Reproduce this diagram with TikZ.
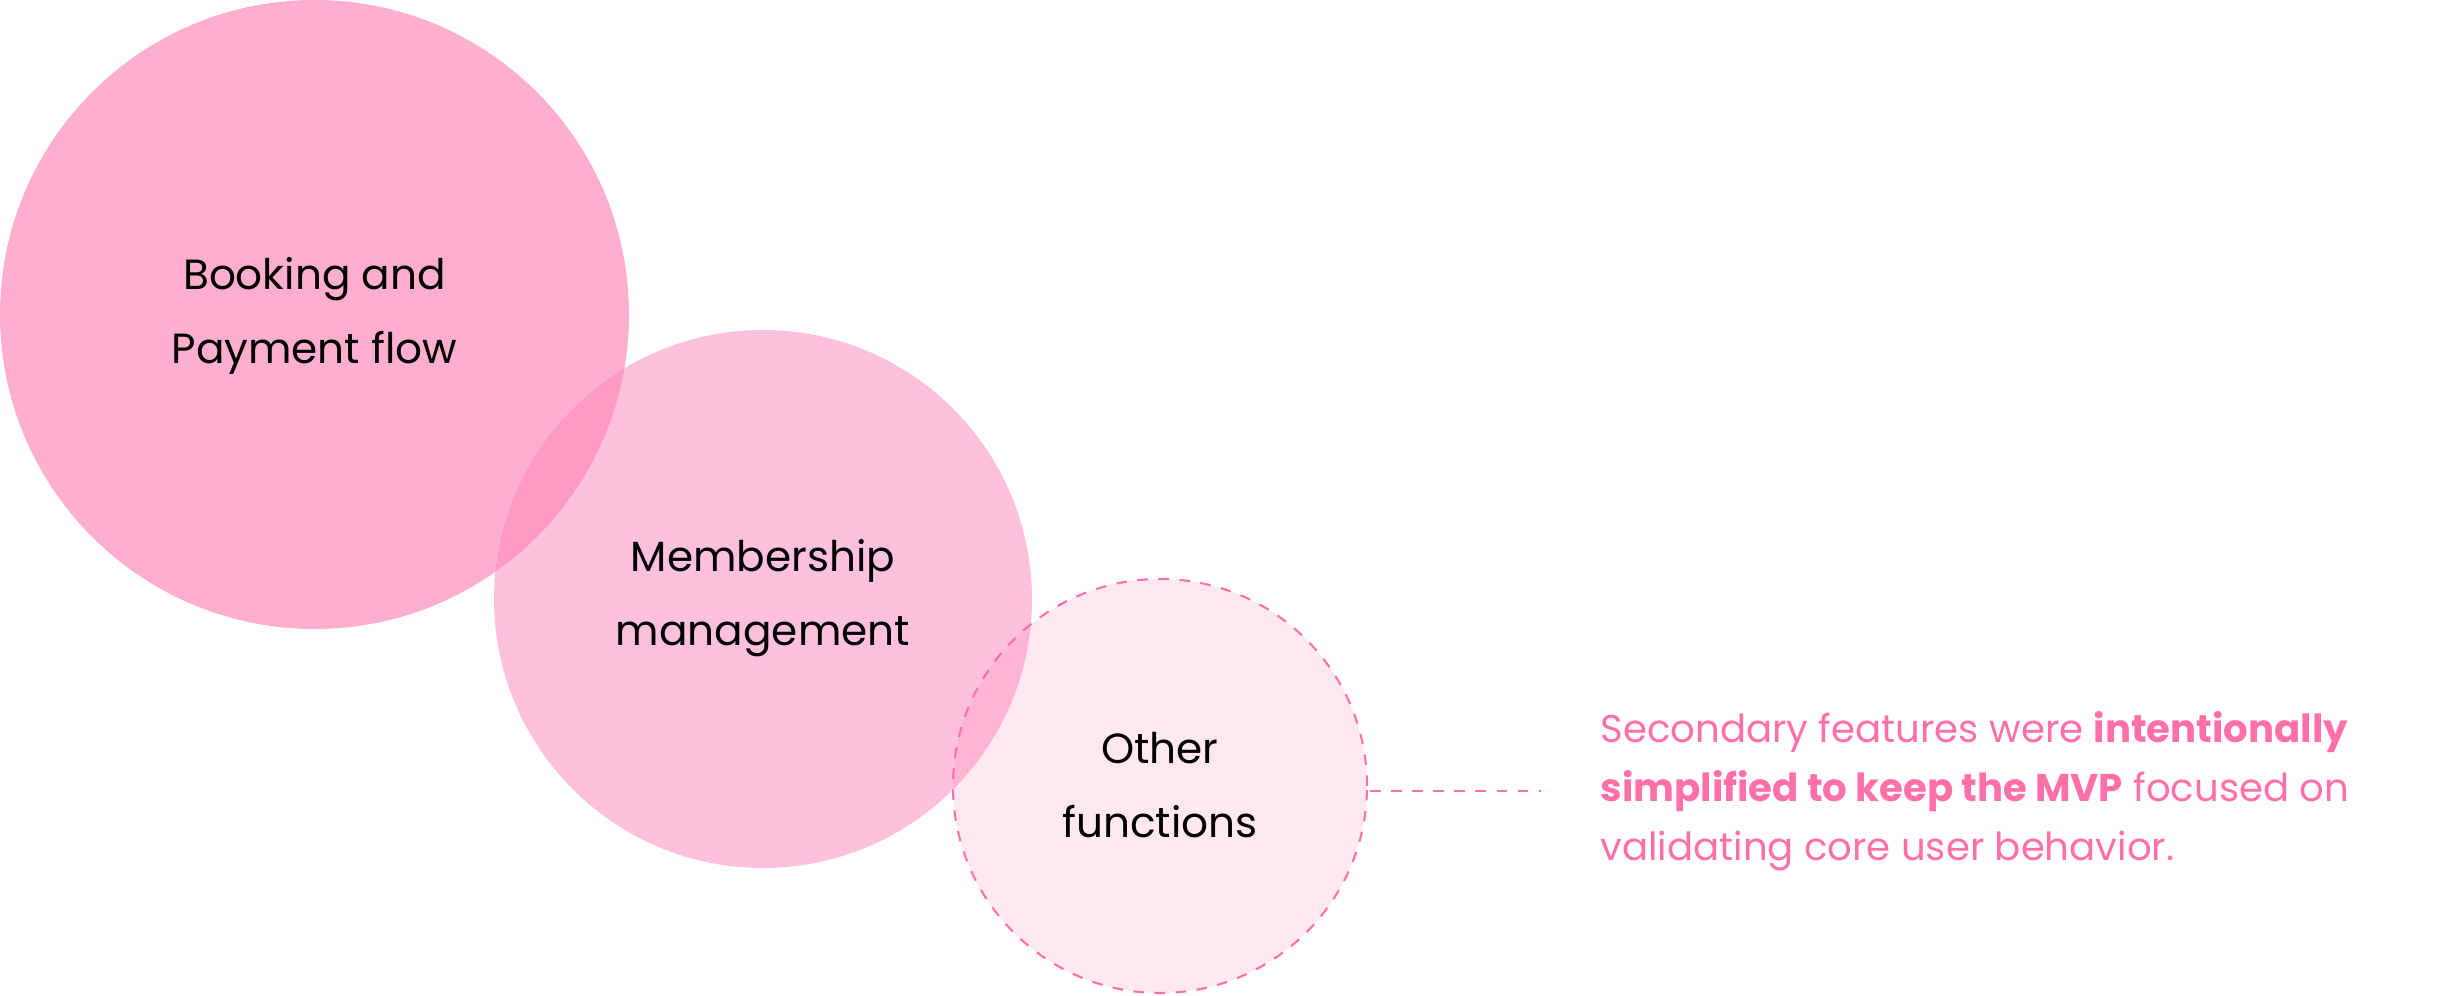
\documentclass[tikz,border=0pt]{standalone}
\usepackage{fontspec}
\setmainfont{Poppins}
\definecolor{cA}{HTML}{FFAFCE}
\definecolor{cB}{HTML}{FDC1DC}
\definecolor{cC}{HTML}{FFE8F1}
\definecolor{cAB}{HTML}{FF9AC0}
\definecolor{cBC}{HTML}{FFB4D2}
\definecolor{pk}{HTML}{FF6FA8}
\tikzset{lbl/.style={align=center,font=\fontsize{12}{21}\selectfont,text=black}}
\begin{document}
\begin{tikzpicture}
\useasboundingbox (0,0) rectangle (24.42,9.96);
\fill[cA] (3.145,6.815) circle (3.145);
\fill[cB] (7.63,3.97) circle (2.69);
\begin{scope}\clip (3.145,6.815) circle (3.145);
\fill[cAB] (7.63,3.97) circle (2.69);\end{scope}
\fill[cC] (11.60,2.10) circle (2.07);
\begin{scope}\clip (7.63,3.97) circle (2.69);
\fill[cBC] (11.60,2.10) circle (2.07);\end{scope}
\draw[pk,dashed,line width=0.6pt] (11.60,2.10) circle (2.07);
\node[lbl] (a) at (3.145,6.80) {Booking and\\Payment flow};
\node[lbl] (b) at (7.63,3.98) {Membership\\management};
\node[lbl] (c) at (11.60,2.11) {Other\\functions};
\coordinate (d0) at (13.70,2.05);
\node[anchor=west,align=left,text=pk,font=\fontsize{11}{16.8}\selectfont] (t) at (15.88,2.05)
{Secondary features were \textbf{intentionally}\\\textbf{simplified to keep the MVP} focused on\\validating core user behavior.};
\draw[pk,dashed,line width=0.6pt] (d0) -- (15.41,2.05);
\end{tikzpicture}
\end{document}
